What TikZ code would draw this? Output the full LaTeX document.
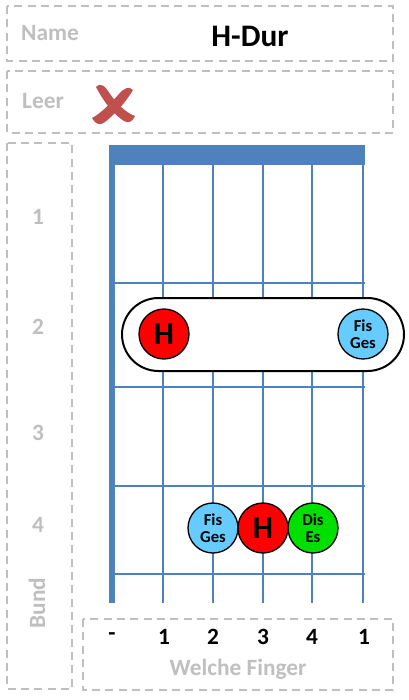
\documentclass[tikz,border=0pt]{standalone}
\usepackage{fontspec}
\setmainfont{Carlito}
\usetikzlibrary{shapes.misc}
\definecolor{boxgray}{HTML}{BFBFBF}
\definecolor{labgray}{HTML}{BFBFBF}
\definecolor{fretblue}{HTML}{4F81BD}
\definecolor{xred}{HTML}{C0504D}
\definecolor{noteblue}{HTML}{66CCFF}
\definecolor{notegreen}{HTML}{00E000}
\definecolor{notered}{HTML}{FF0000}
\begin{document}
\begin{tikzpicture}[x=0.75pt,y=-0.75pt,
  gbox/.style={draw=boxgray, line width=1.5pt, dash pattern=on 6pt off 4pt},
  lbl/.style={text=labgray, font=\fontsize{17.5}{17.5}\selectfont\bfseries, inner sep=0},
  num/.style={text=black, font=\fontsize{17.5}{17.5}\selectfont\bfseries, inner sep=0},
  notec/.style={circle, draw=black, line width=1pt, minimum size=37.5pt, inner sep=0},
  big/.style={font=\fontsize{24}{24}\selectfont\bfseries},
  small/.style={font=\fontsize{12.5}{12.5}\selectfont\bfseries, align=center},
  str/.style={draw=fretblue, line width=2.2pt},
  fret/.style={draw=fretblue, line width=2pt}]
\useasboundingbox (0,0) rectangle (408,700);
% dashed boxes
\draw[gbox] (7,6) rectangle (393,61);
\draw[gbox] (7,71) rectangle (393,133);
\draw[gbox] (7,143) rectangle (72,689);
\draw[gbox] (83,619) rectangle (393,690);
% header texts
\node[lbl] (name) at (50,33) {Name};
\node[inner sep=0, font=\fontsize{23.5}{23.5}\selectfont\bfseries] (title) at (250,36) {H-Dur};
\node[lbl] (leer) at (43,101) {Leer};
% red cross
\fill[xred] (96,87) .. controls (101,82) and (105,86) .. (110,94)
  .. controls (116,102) and (124,112) .. (135,116)
  .. controls (133,121) and (129,124) .. (124,121)
  .. controls (116,116) and (106,106) .. (96,87) -- cycle;
\fill[xred] (133,90) .. controls (129,86) and (124,88) .. (119,94)
  .. controls (110,104) and (100,114) .. (92,118)
  .. controls (95,124) and (100,126) .. (105,122)
  .. controls (115,114) and (126,102) .. (133,90) -- cycle;
% Bund labels
\node[lbl] (b1) at (38,217) {1};
\node[lbl] (b2) at (38,327) {2};
\node[lbl] (b3) at (38,433) {3};
\node[lbl] (b4) at (38,525) {4};
\node[lbl, rotate=90] (bund) at (37,603) {Bund};
% fretboard
\fill[fretblue] (109,145) rectangle (365,165);
\foreach \y in {283,387,486,574} \draw[fret] (110,\y) -- (365,\y);
\draw[fretblue, line width=4.5pt] (112,160) -- (112,603);
\foreach \x in {163,213,263,312,363} \draw[str] (\x,160) -- (\x,603);
% barre
\node[rounded rectangle, draw=black, line width=1.5pt, fill=white,
  minimum width=211.5pt, minimum height=54.75pt, inner sep=0] (barre) at (263,334.5) {};
% notes
\node[notec, fill=notered, big] (h2) at (164,334) {H};
\node[notec, fill=noteblue, small] (fis2) at (363,334) {Fis\\Ges};
\node[notec, fill=noteblue, small] (fis4) at (213,528) {Fis\\Ges};
\node[notec, fill=notered, big] (h4) at (263,528) {H};
\node[notec, fill=notegreen, small] (dis4) at (313,528) {Dis\\Es};
% finger numbers
\node[num] (f0) at (112,637) {-};
\node[num] (f1) at (164,637) {1};
\node[num] (f2) at (213,637) {2};
\node[num] (f3) at (263,637) {3};
\node[num] (f4) at (312,637) {4};
\node[num] (f5) at (364,637) {1};
\node[lbl] (welche) at (238,669) {Welche Finger};
\end{tikzpicture}
\end{document}
